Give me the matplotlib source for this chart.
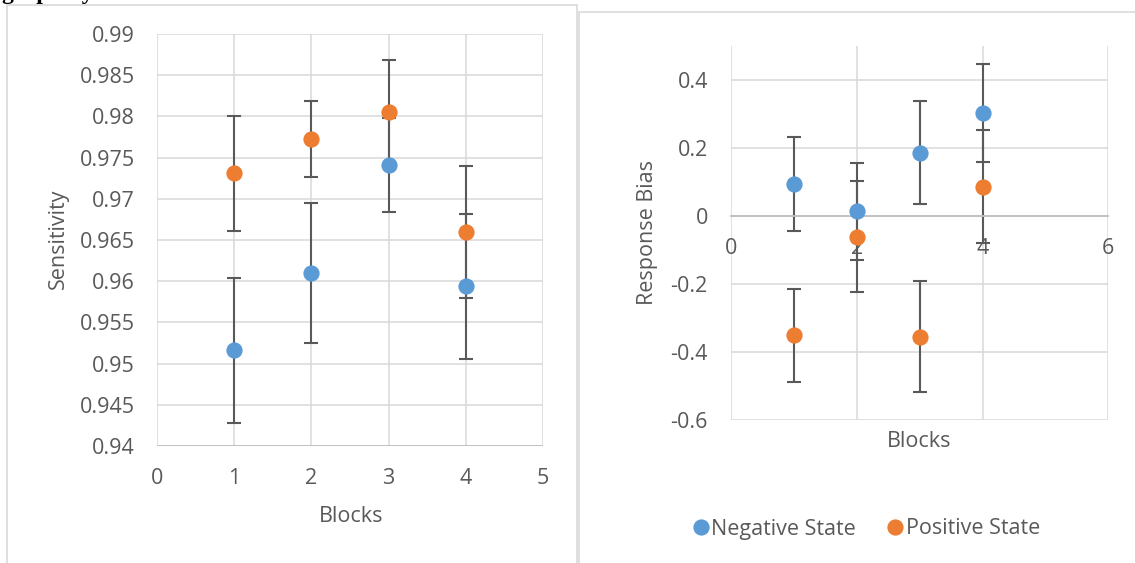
import matplotlib
matplotlib.use("Agg")
import matplotlib.pyplot as plt
from matplotlib.lines import Line2D
from matplotlib.patches import Rectangle

plt.rcParams['font.family'] = ['Open Sans', 'DejaVu Sans']

# ---- data ----
blocks = [1, 2, 3, 4]
sens_neg = [0.9516, 0.9610, 0.9741, 0.9594]
sens_neg_err = [0.0088, 0.0085, 0.0057, 0.0088]
sens_pos = [0.9731, 0.9773, 0.9805, 0.9660]
sens_pos_err = [0.0070, 0.0046, 0.0064, 0.0080]

bias_neg = [0.0926, 0.0137, 0.186, 0.302]
bias_neg_err = [0.138, 0.142, 0.151, 0.144]
bias_pos = [-0.3505, -0.061, -0.3547, 0.0853]
bias_pos_err = [0.137, 0.164, 0.164, 0.166]

left_yticks = [0.94, 0.945, 0.95, 0.955, 0.96, 0.965, 0.97, 0.975, 0.98, 0.985, 0.99]
left_xticks = [0, 1, 2, 3, 4, 5]
right_yticks = [-0.6, -0.4, -0.2, 0, 0.2, 0.4]
right_xticks = [0, 2, 4, 6]
series_names = ["Negative State", "Positive State"]

BLUE = '#5B9BD5'
ORANGE = '#ED7D31'
TXT = '#595959'
GRID = '#d9d9d9'
ERR = '#595959'
FS = 15.5

W, H = 1135, 563
fig = plt.figure(figsize=(W / 100, H / 100), dpi=100)
fig.patch.set_facecolor('white')

def fx(px):
    return px / W

def fy(py):
    return 1 - py / H

# chart frames
fig.add_artist(Rectangle((fx(6.7), fy(600)), fx(577) - fx(6.7), fy(4.5) - fy(600),
                         transform=fig.transFigure, fill=False, edgecolor=GRID, lw=1.2, zorder=0))
fig.add_artist(Rectangle((fx(579), fy(600)), fx(1200) - fx(579), fy(11.7) - fy(600),
                         transform=fig.transFigure, fill=False, edgecolor=GRID, lw=1.2, zorder=0))

# heading text, cut off at the top edge as in the reference
fig.text(fx(2), fy(-1.5), "graph by", fontfamily=['Liberation Serif'], fontweight='bold',
         fontsize=17, color='black', va='baseline', ha='left')

def fmt(v):
    s = ('%.3f' % v).rstrip('0').rstrip('.')
    if s == '-0':
        s = '0'
    return s

def style(ax):
    for s in ax.spines.values():
        s.set_visible(False)
    ax.set_axisbelow(True)
    ax.grid(True, color=GRID, lw=1.1)
    ax.tick_params(length=0, labelsize=FS, colors=TXT)

def draw(ax, neg, negerr, pos, poserr):
    ax.errorbar(blocks, neg, yerr=negerr, fmt='none', ecolor=ERR, elinewidth=1.5,
                capsize=5, capthick=1.5, zorder=2)
    ax.errorbar(blocks, pos, yerr=poserr, fmt='none', ecolor=ERR, elinewidth=1.5,
                capsize=5, capthick=1.5, zorder=2)
    ax.plot(blocks, neg, 'o', ms=11.7, color=BLUE, mew=0, zorder=3)
    ax.plot(blocks, pos, 'o', ms=11.7, color=ORANGE, mew=0, zorder=4)

# ---- left chart ----
ax1 = fig.add_axes([fx(157), fy(446), fx(543) - fx(157), fy(34) - fy(446)])
style(ax1)
draw(ax1, sens_neg, sens_neg_err, sens_pos, sens_pos_err)
ax1.set_xlim(0, 5)
ax1.set_ylim(0.94, 0.99)
ax1.set_xticks(left_xticks)
ax1.set_xticklabels([str(v) for v in left_xticks])
ax1.set_yticks(left_yticks)
ax1.set_yticklabels([fmt(v) for v in left_yticks])
ax1.tick_params(axis='x', pad=16)
ax1.tick_params(axis='y', pad=16)
ax1.axhline(0.94, color='#bfbfbf', lw=1.3, zorder=1)
fig.text(fx(58.5), fy(239), "Sensitivity", rotation=90, ha='center', va='center',
         fontsize=FS, color=TXT)
fig.text(fx(350.7), fy(516), "Blocks", ha='center', va='center', fontsize=FS, color=TXT)

# ---- right chart ----
ax2 = fig.add_axes([fx(731.4), fy(420.1), fx(1108.2) - fx(731.4), fy(45.6) - fy(420.1)])
style(ax2)
draw(ax2, bias_neg, bias_neg_err, bias_pos, bias_pos_err)
ax2.set_xlim(0, 6)
ax2.set_ylim(-0.6, 0.5)
ax2.set_xticks(right_xticks)
ax2.set_xticklabels([str(v) for v in right_xticks])
ax2.set_yticks(right_yticks)
ax2.set_yticklabels([fmt(v) for v in right_yticks])
ax2.spines['bottom'].set_visible(True)
ax2.spines['bottom'].set_position(('data', 0))
ax2.spines['bottom'].set_color('#bfbfbf')
ax2.spines['bottom'].set_linewidth(1.3)
ax2.tick_params(axis='x', pad=16)
ax2.tick_params(axis='y', pad=17)
fig.text(fx(648), fy(233), "Response Bias", rotation=90, ha='center', va='center',
         fontsize=FS, color=TXT)
fig.text(fx(919.6), fy(441.7), "Blocks", ha='center', va='center', fontsize=FS, color=TXT)

# ---- legend ----
handles = [Line2D([], [], ls='none', marker='o', ms=11.7, mew=0, color=BLUE),
           Line2D([], [], ls='none', marker='o', ms=11.7, mew=0, color=ORANGE)]
leg = fig.legend(handles, series_names, loc='center', bbox_to_anchor=(fx(867), fy(529)),
                 ncol=2, frameon=False, fontsize=FS, labelcolor=TXT,
                 handlelength=0.6, handletextpad=0.2, columnspacing=1.5)

fig.savefig('out.png', dpi=100, facecolor='white')
